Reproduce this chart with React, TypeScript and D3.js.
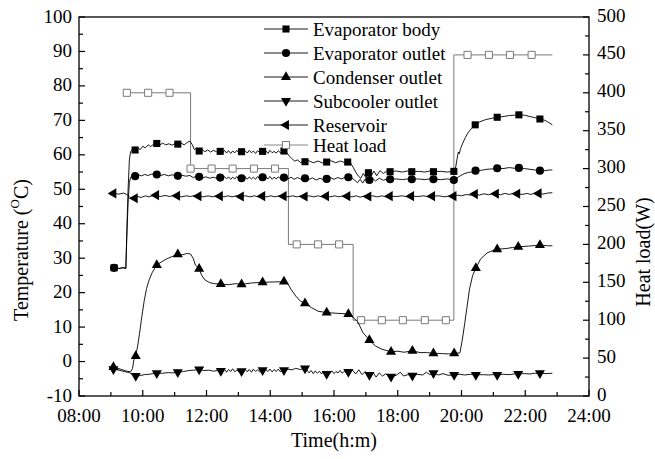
import React from "react";
import * as d3 from "d3";

type Pt = [number, number];

// Axis ticks and labels
const timeTicks = [8, 10, 12, 14, 16, 18, 20, 22, 24];
const timeTickLabels = ["08:00", "10:00", "12:00", "14:00", "16:00", "18:00", "20:00", "22:00", "24:00"];
const timeMinorTicks = [9, 11, 13, 15, 17, 19, 21, 23];
const tempTicks = [-10, 0, 10, 20, 30, 40, 50, 60, 70, 80, 90, 100];
const tempMinorTicks = [-5, 5, 15, 25, 35, 45, 55, 65, 75, 85, 95];
const loadTicks = [0, 50, 100, 150, 200, 250, 300, 350, 400, 450, 500];
const loadMinorTicks = [25, 75, 125, 175, 225, 275, 325, 375, 425, 475];

const seriesNames = [
  "Evaporator body",
  "Evaporator outlet",
  "Condenser outlet",
  "Subcooler outlet",
  "Reservoir",
  "Heat load",
];

// Evaporator body temperature (°C) vs time (h)
const bodyTrace: Pt[] = [
  [9.10, 27.2], [9.25, 27.0], [9.38, 27.3], [9.47, 27.1], [9.50, 38.0], [9.54, 50.0], [9.58, 58.5],
  [9.62, 61.0], [9.68, 61.6], [9.76, 61.4], [9.84, 62.1], [9.92, 61.5], [10.00, 62.5], [10.08, 62.0],
  [10.17, 62.9], [10.25, 62.4], [10.34, 63.1], [10.44, 63.3], [10.53, 62.8], [10.62, 63.4], [10.72, 62.9],
  [10.82, 63.2], [10.92, 62.8], [11.02, 63.3], [11.10, 63.1], [11.20, 63.4], [11.30, 62.9], [11.40, 63.6],
  [11.48, 64.0], [11.55, 63.0], [11.62, 61.5], [11.68, 61.9], [11.77, 61.1], [11.86, 61.5], [11.95, 60.9],
  [12.04, 61.4], [12.13, 60.8], [12.22, 61.3], [12.31, 60.9], [12.43, 61.0],
  [12.50, 60.4], [12.56, 61.3], [12.63, 60.5], [12.69, 61.2], [12.76, 60.4], [12.82, 61.1], [12.89, 60.6],
  [12.95, 61.3], [13.02, 60.5], [13.10, 60.9], [13.15, 60.4], [13.21, 61.2], [13.28, 60.5], [13.34, 61.3],
  [13.41, 60.6], [13.47, 61.1], [13.54, 60.4], [13.60, 61.2], [13.67, 60.7], [13.76, 61.0], [13.80, 60.5],
  [13.86, 61.2], [13.93, 60.4], [13.99, 61.3], [14.06, 60.6], [14.12, 61.0], [14.19, 60.5], [14.25, 61.2],
  [14.32, 60.6], [14.38, 61.2],
  [14.43, 61.1], [14.52, 60.6], [14.60, 59.6], [14.68, 58.9], [14.76, 58.2], [14.86, 58.5], [14.95, 57.8],
  [15.09, 58.0], [15.20, 58.3], [15.35, 57.7], [15.50, 58.2], [15.65, 57.6], [15.77, 57.9], [15.90, 58.3],
  [16.05, 57.7], [16.20, 58.2], [16.32, 57.8], [16.43, 57.9], [16.52, 57.6], [16.60, 56.4], [16.68, 55.0],
  [16.76, 53.9], [16.84, 53.2], [16.92, 54.6], [17.00, 53.4], [17.08, 54.8], [17.16, 53.7], [17.25, 55.3],
  [17.34, 53.9], [17.44, 55.4], [17.55, 54.6], [17.66, 55.3], [17.76, 55.1], [17.95, 55.3], [18.15, 55.0],
  [18.30, 55.3], [18.44, 55.1], [18.65, 55.2], [18.85, 55.0], [19.00, 55.3], [19.12, 55.1], [19.35, 55.2],
  [19.55, 55.0], [19.76, 55.2], [19.82, 56.5], [19.86, 58.8], [19.90, 60.8], [19.93, 60.3], [19.97, 61.8],
  [20.04, 63.4], [20.12, 65.0], [20.22, 66.6], [20.32, 67.7], [20.43, 68.7], [20.58, 69.6], [20.75, 70.2],
  [20.95, 70.6], [21.12, 70.9], [21.30, 71.1], [21.50, 71.4], [21.65, 71.5], [21.80, 71.6], [21.98, 71.5],
  [22.15, 71.1], [22.30, 70.8], [22.46, 70.4], [22.62, 70.0], [22.75, 69.3], [22.85, 68.7],
];
const bodyMarks: Pt[] = [
  [9.10, 27.2], [9.76, 61.4], [10.44, 63.3], [11.10, 63.1], [11.77, 61.1], [12.43, 61.0], [13.10, 60.9],
  [13.76, 61.0], [14.43, 61.1], [15.09, 58.0], [15.77, 57.9], [16.43, 57.9], [17.08, 54.8], [17.76, 55.1],
  [18.44, 55.1], [19.12, 55.1], [19.76, 55.2], [20.43, 68.7], [21.12, 70.9], [21.80, 71.6], [22.46, 70.4],
];

// Evaporator outlet temperature
const outletTrace: Pt[] = [
  [9.10, 27.2], [9.25, 27.0], [9.38, 27.2], [9.47, 27.0], [9.50, 36.0], [9.54, 46.0], [9.58, 52.0],
  [9.62, 53.5], [9.68, 54.0], [9.76, 53.8], [9.86, 54.2], [9.96, 53.9], [10.06, 54.3], [10.16, 54.0],
  [10.28, 54.4], [10.44, 54.3], [10.56, 54.0], [10.68, 54.3], [10.80, 53.9], [10.92, 54.2], [11.10, 53.9],
  [11.22, 54.1], [11.35, 53.8], [11.48, 54.0], [11.58, 53.4], [11.67, 53.7], [11.77, 53.6], [11.88, 53.3],
  [11.99, 53.6], [12.10, 53.2], [12.21, 53.5], [12.32, 53.2], [12.43, 53.4],
  [12.50, 52.9], [12.56, 53.7], [12.63, 53.0], [12.69, 53.6], [12.76, 52.9], [12.82, 53.5], [12.89, 53.0],
  [12.95, 53.7], [13.02, 52.9], [13.10, 53.2], [13.15, 53.0], [13.21, 53.7], [13.28, 52.9], [13.34, 53.6],
  [13.41, 53.0], [13.47, 53.5], [13.54, 52.9], [13.60, 53.7], [13.67, 53.1], [13.76, 53.5], [13.80, 52.9],
  [13.86, 53.6], [13.93, 53.0], [13.99, 53.7], [14.06, 52.9], [14.12, 53.5], [14.19, 53.0], [14.25, 53.6],
  [14.32, 53.1], [14.38, 53.5],
  [14.43, 53.4], [14.55, 53.0], [14.65, 53.5], [14.75, 52.9], [14.86, 53.4], [14.97, 52.9], [15.09, 53.2],
  [15.20, 52.8], [15.32, 53.3], [15.44, 52.7], [15.56, 53.2], [15.66, 52.8], [15.77, 53.0], [15.88, 53.4],
  [16.00, 52.9], [16.12, 53.4], [16.24, 53.0], [16.35, 53.5], [16.45, 53.5], [16.56, 53.3], [16.65, 52.6],
  [16.74, 51.9], [16.82, 52.9], [16.90, 51.8], [16.98, 53.0], [17.04, 52.2], [17.11, 52.7], [17.20, 53.3],
  [17.30, 52.4], [17.42, 53.2], [17.55, 52.6], [17.66, 53.0], [17.76, 52.9], [17.95, 53.0], [18.15, 52.8],
  [18.30, 53.0], [18.44, 52.9], [18.65, 53.0], [18.85, 52.8], [19.00, 53.0], [19.12, 52.9], [19.35, 52.8],
  [19.55, 53.0], [19.76, 52.7], [19.86, 53.3], [19.96, 53.9], [20.08, 54.5], [20.22, 54.9], [20.32, 55.0],
  [20.44, 55.4], [20.62, 55.5], [20.80, 55.8], [20.96, 55.9], [21.12, 56.1], [21.30, 56.0], [21.50, 56.3],
  [21.65, 56.1], [21.80, 56.2], [21.98, 56.0], [22.15, 55.8], [22.30, 55.6], [22.46, 55.4], [22.62, 55.4],
  [22.75, 55.6], [22.85, 55.6],
];
const outletMarks: Pt[] = [
  [9.10, 27.2], [9.76, 53.8], [10.44, 54.3], [11.10, 53.9], [11.77, 53.6], [12.43, 53.4], [13.10, 53.2],
  [13.76, 53.5], [14.43, 53.4], [15.09, 53.2], [15.77, 53.0], [16.45, 53.5], [17.11, 52.7], [17.76, 52.9],
  [18.44, 52.9], [19.12, 52.9], [19.76, 52.7], [20.44, 55.4], [21.12, 56.1], [21.80, 56.2], [22.46, 55.4],
];

// Condenser outlet temperature
const condenserTrace: Pt[] = [
  [9.08, -1.6], [9.30, -2.2], [9.50, -2.8], [9.62, -3.0], [9.68, -2.0], [9.72, 0.5], [9.78, 1.6],
  [9.84, 4.5], [9.90, 8.2], [9.97, 13.0], [10.05, 17.9], [10.12, 21.2], [10.20, 23.7], [10.30, 25.9],
  [10.44, 28.0], [10.60, 29.0], [10.75, 29.8], [10.90, 30.4], [11.10, 31.1], [11.25, 31.0], [11.40, 31.4],
  [11.50, 31.2], [11.58, 30.0], [11.65, 28.0], [11.77, 26.9], [11.85, 25.0], [11.95, 23.7], [12.10, 22.9],
  [12.25, 22.6], [12.45, 22.5], [12.70, 22.3], [12.90, 22.6], [13.10, 22.4], [13.40, 22.8], [13.76, 23.0],
  [14.10, 23.1], [14.43, 23.2], [14.55, 22.6], [14.65, 21.0], [14.80, 19.0], [14.95, 17.5], [15.09, 16.9],
  [15.30, 15.6], [15.50, 14.6], [15.77, 14.2], [16.10, 14.0], [16.45, 13.8], [16.60, 12.8], [16.75, 11.5],
  [16.90, 8.5], [17.11, 6.2], [17.30, 4.5], [17.50, 3.6], [17.79, 2.8], [18.00, 3.0], [18.20, 2.7],
  [18.46, 3.1], [18.70, 2.6], [18.90, 2.6], [19.12, 2.4], [19.40, 2.3], [19.60, 2.2], [19.77, 2.4],
  [19.95, 2.5], [20.02, 6.0], [20.10, 11.0], [20.16, 15.0], [20.25, 21.0], [20.35, 25.0], [20.45, 27.1],
  [20.60, 29.8], [20.80, 31.5], [21.00, 32.3], [21.12, 32.6], [21.40, 32.8], [21.60, 33.1], [21.78, 33.3],
  [22.10, 33.5], [22.46, 33.8], [22.70, 33.6], [22.85, 33.6],
];
const condenserMarks: Pt[] = [
  [9.08, -1.6], [9.78, 1.6], [10.44, 28.0], [11.10, 31.1], [11.77, 26.9], [12.45, 22.5], [13.10, 22.4],
  [13.76, 23.0], [14.43, 23.2], [15.09, 16.9], [15.77, 14.2], [16.45, 13.8], [17.11, 6.2], [17.79, 2.8],
  [18.46, 3.1], [19.12, 2.4], [19.77, 2.4], [20.45, 27.1], [21.12, 32.6], [21.78, 33.3], [22.46, 33.8],
];

// Subcooler outlet temperature
const subcoolerTrace: Pt[] = [
  [9.08, -2.2], [9.25, -2.5], [9.42, -2.9], [9.58, -3.2], [9.68, -3.8], [9.78, -4.2], [9.90, -4.1],
  [10.05, -3.8], [10.20, -3.7], [10.32, -3.5], [10.44, -3.4], [10.62, -3.4], [10.80, -3.2], [10.95, -3.3],
  [11.10, -3.1], [11.28, -2.9], [11.45, -2.6], [11.60, -2.5], [11.77, -2.3], [11.92, -2.6], [12.08, -2.5],
  [12.22, -2.8], [12.34, -2.6], [12.45, -2.7],
  [12.50, -3.0], [12.56, -2.2], [12.63, -3.1], [12.69, -2.3], [12.76, -2.9], [12.82, -2.1], [12.89, -3.0],
  [12.95, -2.4], [13.02, -3.1], [13.10, -2.8], [13.15, -2.9], [13.21, -2.2], [13.28, -3.0], [13.34, -2.3],
  [13.41, -3.1], [13.47, -2.2], [13.54, -2.9], [13.60, -2.4], [13.67, -3.0], [13.76, -2.5], [13.80, -3.1],
  [13.86, -2.3], [13.93, -2.9], [13.99, -2.2], [14.06, -3.0], [14.12, -2.3], [14.19, -2.9], [14.25, -2.2],
  [14.32, -3.0], [14.38, -2.4],
  [14.43, -2.5], [14.55, -2.2], [14.68, -2.4], [14.80, -2.0], [14.95, -2.3], [15.09, -2.0],
  [15.15, -2.4], [15.22, -3.3], [15.28, -2.6], [15.35, -3.5], [15.41, -2.7], [15.48, -3.4], [15.54, -2.8],
  [15.61, -3.6], [15.67, -2.9], [15.77, -3.6], [15.80, -2.8], [15.87, -3.4], [15.93, -2.7], [16.00, -3.5],
  [16.06, -2.9], [16.13, -3.3], [16.19, -2.6], [16.26, -3.4], [16.32, -2.8], [16.39, -3.2],
  [16.45, -3.0], [16.58, -2.5], [16.68, -3.6], [16.78, -2.4], [16.88, -3.8], [16.98, -2.9], [17.11, -3.9],
  [17.22, -3.1], [17.32, -4.5], [17.42, -3.3], [17.52, -4.2], [17.62, -3.6], [17.79, -4.4], [17.95, -4.0],
  [18.08, -3.1], [18.18, -4.2], [18.32, -3.8], [18.46, -4.1], [18.62, -3.7], [18.78, -3.9], [18.90, -3.1],
  [19.00, -3.8], [19.12, -3.4], [19.28, -3.9], [19.42, -3.5], [19.58, -4.0], [19.77, -3.9], [19.95, -3.7],
  [20.10, -3.9], [20.28, -3.7], [20.45, -3.9], [20.65, -3.8], [20.85, -3.9], [21.00, -3.8], [21.12, -3.9],
  [21.30, -3.7], [21.50, -3.8], [21.65, -3.6], [21.78, -3.6], [21.95, -3.5], [22.15, -3.6], [22.30, -3.4],
  [22.46, -3.4], [22.65, -3.5], [22.85, -3.4],
];
const subcoolerMarks: Pt[] = [
  [9.08, -2.2], [9.78, -4.2], [10.44, -3.4], [11.10, -3.1], [11.77, -2.3], [12.45, -2.7], [13.10, -2.8],
  [13.76, -2.5], [14.43, -2.5], [15.09, -2.0], [15.77, -3.6], [16.45, -3.0], [17.11, -3.9], [17.79, -4.4],
  [18.46, -4.1], [19.12, -3.4], [19.77, -3.9], [20.45, -3.9], [21.12, -3.9], [21.78, -3.6], [22.46, -3.4],
];

// Reservoir temperature
const reservoirTrace: Pt[] = [
  [9.08, 48.8], [9.25, 48.6], [9.40, 48.9], [9.52, 48.4], [9.60, 47.6], [9.68, 47.2], [9.75, 47.4],
  [9.85, 47.9], [9.95, 47.6], [10.08, 48.1], [10.20, 47.8], [10.32, 48.2], [10.42, 48.3], [10.55, 47.9],
  [10.70, 48.2], [10.85, 47.9], [10.96, 48.2], [11.08, 48.1], [11.22, 47.8], [11.36, 48.1], [11.50, 47.9],
  [11.62, 48.2], [11.75, 48.0], [11.90, 47.8], [12.05, 48.1], [12.20, 47.8], [12.30, 48.1], [12.42, 48.0],
  [12.55, 47.8], [12.68, 48.1], [12.80, 47.8], [12.94, 48.1], [13.08, 47.9], [13.22, 48.1], [13.36, 47.8],
  [13.50, 48.1], [13.62, 47.8], [13.75, 48.0], [13.88, 47.8], [14.02, 48.1], [14.15, 47.8], [14.28, 48.1],
  [14.42, 48.0], [14.56, 47.8], [14.70, 48.1], [14.85, 47.8], [14.96, 48.1], [15.08, 47.9], [15.22, 48.1],
  [15.36, 47.8], [15.50, 48.1], [15.62, 47.8], [15.75, 48.0], [15.88, 47.8], [16.02, 48.1], [16.15, 47.8],
  [16.30, 48.1], [16.42, 48.0], [16.56, 47.8], [16.70, 48.1], [16.82, 47.7], [16.96, 48.1], [17.08, 47.9],
  [17.22, 48.1], [17.36, 47.8], [17.50, 48.1], [17.62, 47.8], [17.75, 48.0], [17.95, 47.9], [18.15, 48.1],
  [18.30, 47.8], [18.42, 48.0], [18.62, 47.9], [18.82, 48.1], [18.95, 47.8], [19.08, 48.0], [19.28, 48.1],
  [19.48, 47.8], [19.62, 48.1], [19.75, 48.0], [19.88, 48.3], [20.00, 48.1], [20.15, 48.5], [20.28, 48.3],
  [20.42, 48.6], [20.56, 48.3], [20.70, 48.7], [20.85, 48.4], [20.96, 48.7], [21.08, 48.7], [21.22, 48.4],
  [21.36, 48.8], [21.50, 48.5], [21.62, 48.8], [21.75, 48.7], [21.90, 48.5], [22.05, 48.8], [22.18, 48.5],
  [22.30, 48.9], [22.42, 48.8], [22.56, 48.6], [22.70, 48.9], [22.85, 49.0],
];
const reservoirMarks: Pt[] = [
  [9.08, 48.8], [9.75, 47.4], [10.42, 48.3], [11.08, 48.1], [11.75, 48.0], [12.42, 48.0], [13.08, 47.9],
  [13.75, 48.0], [14.42, 48.0], [15.08, 47.9], [15.75, 48.0], [16.42, 48.0], [17.08, 47.9], [17.75, 48.0],
  [18.42, 48.0], [19.08, 48.0], [19.75, 48.0], [20.42, 48.6], [21.08, 48.7], [21.75, 48.7], [22.42, 48.8],
];

// Heat load (W), stepwise
const loadTrace: Pt[] = [
  [9.39, 400], [11.50, 400], [11.50, 300], [14.57, 300], [14.57, 200], [16.60, 200],
  [16.60, 100], [19.76, 100], [19.76, 450], [22.85, 450],
];
const loadMarks: Pt[] = [
  [9.50, 400], [10.17, 400], [10.84, 400], [11.50, 300], [12.16, 300], [12.82, 300], [13.49, 300],
  [14.15, 300], [14.83, 200], [15.50, 200], [16.16, 200], [16.85, 100], [17.50, 100], [18.16, 100],
  [18.85, 100], [19.51, 100], [20.19, 450], [20.86, 450], [21.52, 450], [22.20, 450],
];

const WIDTH = 655;
const HEIGHT = 459;
const plot = { left: 79, right: 589, top: 17, bottom: 396 };
const FONT = "'Liberation Serif', 'Times New Roman', serif";

const x = d3.scaleLinear().domain([8, 24]).range([plot.left, plot.right]);
const yT = d3.scaleLinear().domain([-10, 100]).range([plot.bottom, plot.top]);
const yW = d3.scaleLinear().domain([0, 500]).range([plot.bottom, plot.top]);

type Shape = "square" | "circle" | "up" | "down" | "left" | "open";

function symbolPath(shape: Shape): string {
  if (shape === "circle") return d3.symbol(d3.symbolCircle, 52)()!;
  if (shape === "square" || shape === "open") return d3.symbol(d3.symbolSquare, 50)()!;
  return d3.symbol(d3.symbolTriangle, 44)()!;
}

function rotation(shape: Shape): number {
  if (shape === "down") return 180;
  if (shape === "left") return -90;
  return 0;
}

function Marker({ cx, cy, shape }: { cx: number; cy: number; shape: Shape }) {
  const open = shape === "open";
  return (
    <path
      d={symbolPath(shape)}
      transform={`translate(${cx},${cy}) rotate(${rotation(shape)})`}
      fill={open ? "#ffffff" : "#000000"}
      stroke={open ? "#7a7a7a" : "none"}
      strokeWidth={open ? 1 : 0}
    />
  );
}

const tempSeries: { trace: Pt[]; marks: Pt[]; shape: Shape }[] = [
  { trace: bodyTrace, marks: bodyMarks, shape: "square" },
  { trace: outletTrace, marks: outletMarks, shape: "circle" },
  { trace: reservoirTrace, marks: reservoirMarks, shape: "left" },
  { trace: subcoolerTrace, marks: subcoolerMarks, shape: "down" },
  { trace: condenserTrace, marks: condenserMarks, shape: "up" },
];

const legendShapes: Shape[] = ["square", "circle", "up", "down", "left", "open"];
const legendRows = [29, 53, 77, 101, 125, 145];

export default function App() {
  const lineT = d3.line<Pt>().x((d) => x(d[0])).y((d) => yT(d[1]));
  const lineW = d3.line<Pt>().x((d) => x(d[0])).y((d) => yW(d[1]));

  return (
    <svg
      width={WIDTH}
      height={HEIGHT}
      style={{ position: "absolute", left: 0, top: 0, background: "#fff" }}
      fontFamily={FONT}
    >
      <rect width={WIDTH} height={HEIGHT} fill="#fff" />

      {/* heat load on the right axis */}
      <path d={lineW(loadTrace)!} fill="none" stroke="#7a7a7a" strokeWidth={1} />
      {loadMarks.map((d, i) => (
        <Marker key={"w" + i} cx={x(d[0])} cy={yW(d[1])} shape="open" />
      ))}

      {/* temperature traces */}
      {tempSeries.map((s, si) => (
        <g key={"s" + si}>
          <path d={lineT(s.trace)!} fill="none" stroke="#000" strokeWidth={0.9} />
          {s.marks.map((d, i) => (
            <Marker key={i} cx={x(d[0])} cy={yT(d[1])} shape={s.shape} />
          ))}
        </g>
      ))}

      {/* frame */}
      <rect
        x={plot.left}
        y={plot.top}
        width={plot.right - plot.left}
        height={plot.bottom - plot.top}
        fill="none"
        stroke="#000"
        strokeWidth={1.3}
      />

      {/* bottom axis */}
      {timeTicks.map((t, i) => (
        <g key={"xt" + i}>
          <line x1={x(t)} x2={x(t)} y1={plot.bottom} y2={plot.bottom - 6} stroke="#000" strokeWidth={1.2} />
          <text x={x(t)} y={422} textAnchor="middle" fontSize={19}>
            {timeTickLabels[i]}
          </text>
        </g>
      ))}
      {timeMinorTicks.map((t, i) => (
        <line key={"xm" + i} x1={x(t)} x2={x(t)} y1={plot.bottom} y2={plot.bottom - 4} stroke="#000" strokeWidth={1.2} />
      ))}

      {/* left axis */}
      {tempTicks.map((v, i) => (
        <g key={"yt" + i}>
          <line x1={plot.left} x2={plot.left + 6} y1={yT(v)} y2={yT(v)} stroke="#000" strokeWidth={1.2} />
          <text x={72} y={yT(v) - 1} textAnchor="end" dominantBaseline="central" fontSize={19}>
            {v}
          </text>
        </g>
      ))}
      {tempMinorTicks.map((v, i) => (
        <line key={"ym" + i} x1={plot.left} x2={plot.left + 4} y1={yT(v)} y2={yT(v)} stroke="#000" strokeWidth={1.2} />
      ))}

      {/* right axis */}
      {loadTicks.map((v, i) => (
        <g key={"rt" + i}>
          <line x1={plot.right} x2={plot.right - 6} y1={yW(v)} y2={yW(v)} stroke="#000" strokeWidth={1.2} />
          <text x={597} y={yW(v) - 2} textAnchor="start" dominantBaseline="central" fontSize={19}>
            {v}
          </text>
        </g>
      ))}
      {loadMinorTicks.map((v, i) => (
        <line key={"rm" + i} x1={plot.right} x2={plot.right - 4} y1={yW(v)} y2={yW(v)} stroke="#000" strokeWidth={1.2} />
      ))}

      {/* axis titles */}
      <text x={334} y={447} textAnchor="middle" fontSize={20}>
        Time(h:m)
      </text>
      <text
        transform="translate(21,250) rotate(-90)"
        textAnchor="middle"
        dominantBaseline="central"
        fontSize={20}
      >
        Temperature (<tspan fontSize={13} dy={-7}>O</tspan>
        <tspan dy={7}>C)</tspan>
      </text>
      <text
        transform="translate(643,252) rotate(-90)"
        textAnchor="middle"
        dominantBaseline="central"
        fontSize={20}
      >
        Heat load(W)
      </text>

      {/* legend */}
      {seriesNames.map((name, i) => {
        const yy = legendRows[i];
        const open = legendShapes[i] === "open";
        return (
          <g key={"lg" + i}>
            <line x1={264} x2={308} y1={yy} y2={yy} stroke={open ? "#7a7a7a" : "#000"} strokeWidth={0.9} />
            <Marker cx={286} cy={yy} shape={legendShapes[i]} />
            <text x={313} y={yy} dominantBaseline="central" fontSize={19}>
              {name}
            </text>
          </g>
        );
      })}
    </svg>
  );
}
